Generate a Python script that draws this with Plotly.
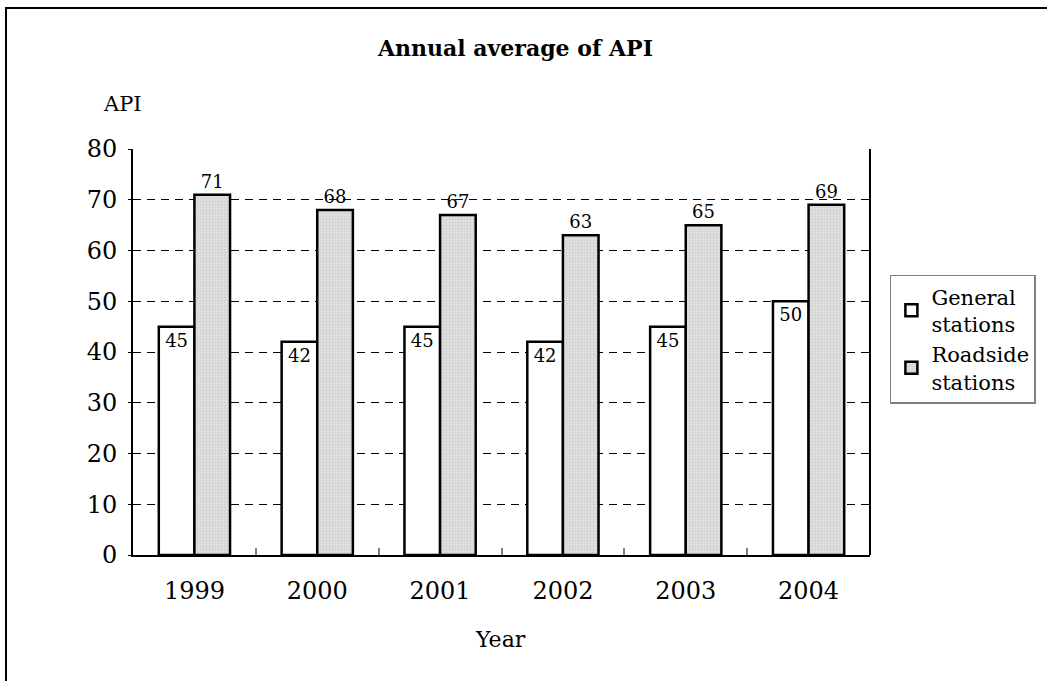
import plotly.graph_objects as go

years = ["1999", "2000", "2001", "2002", "2003", "2004"]
general = [45, 42, 45, 42, 45, 50]
roadside = [71, 68, 67, 63, 65, 69]
y_ticks = [0, 10, 20, 30, 40, 50, 60, 70, 80]

FONT = "DejaVu Serif"

fig = go.Figure()
fig.add_trace(go.Bar(
    x=years, y=general, name="General<br>stations",
    marker=dict(color="white", line=dict(color="black", width=2.5)),
    text=general, textposition="inside", insidetextanchor="end",
    textfont=dict(family=FONT, size=18, color="black"),
))
fig.add_trace(go.Bar(
    x=years, y=roadside, name="Roadside<br>stations",
    marker=dict(color="#d6d6d6", line=dict(color="black", width=2.5),
                pattern=dict(shape=".", bgcolor="#e2e2e2", fgcolor="#b8b8b8", size=3, solidity=0.4)),
    text=roadside, textposition="outside",
    textfont=dict(family=FONT, size=18, color="black"),
    cliponaxis=False,
))

fig.update_layout(
    width=1047, height=681,
    margin=dict(l=133, r=177, t=149, b=126, autoexpand=False),
    paper_bgcolor="white", plot_bgcolor="white",
    barmode="group", bargap=0.42, bargroupgap=0,
    font=dict(family=FONT, color="black"),
    showlegend=True,
    legend=dict(x=1.027, y=0.69, xanchor="left", yanchor="top",
                bordercolor="#808080", borderwidth=1.5, bgcolor="white",
                font=dict(family=FONT, size=21), tracegroupgap=4,
                itemwidth=30),
    uniformtext=dict(mode=False),
)
fig.update_xaxes(
    type="category", showline=True, linecolor="black", linewidth=2,
    ticks="inside", tickson="boundaries", ticklen=7, tickcolor="#808080", tickwidth=1.5,
    tickfont=dict(family=FONT, size=24), ticklabelstandoff=13,
    showgrid=False, mirror=False,
)
fig.update_yaxes(
    range=[0, 80], tickvals=y_ticks, showline=True, linecolor="black", linewidth=2,
    ticks="outside", ticklen=3, tickcolor="black",
    tickfont=dict(family=FONT, size=24), ticklabelstandoff=6,
    showgrid=True, gridcolor="black", gridwidth=1, griddash="8px,6px",
    zeroline=False,
)
# right border of plot area
fig.add_shape(type="line", xref="paper", yref="paper", x0=1, x1=1, y0=0, y1=1,
              line=dict(color="black", width=2))
# outer chart border
fig.add_shape(type="rect", xref="paper", yref="paper",
              x0=-0.1723, x1=1.25, y0=-0.4, y1=1.347,
              line=dict(color="black", width=2), layer="below")

fig.add_annotation(text="<b>Annual average of API</b>", xref="paper", yref="paper",
                   x=0.518, y=1.249, xanchor="center", yanchor="middle", showarrow=False,
                   font=dict(family=FONT, size=22, color="black"))
fig.add_annotation(text="API", xref="paper", yref="paper",
                   x=-0.0136, y=1.112, xanchor="center", yanchor="middle", showarrow=False,
                   font=dict(family=FONT, size=21, color="black"))
fig.add_annotation(text="Year", xref="paper", yref="paper",
                   x=0.498, y=-0.209, xanchor="center", yanchor="middle", showarrow=False,
                   font=dict(family=FONT, size=22, color="black"))

fig.write_html("out.html", post_script="document.body.style.margin='0px';",
               config={"displayModeBar": False})
